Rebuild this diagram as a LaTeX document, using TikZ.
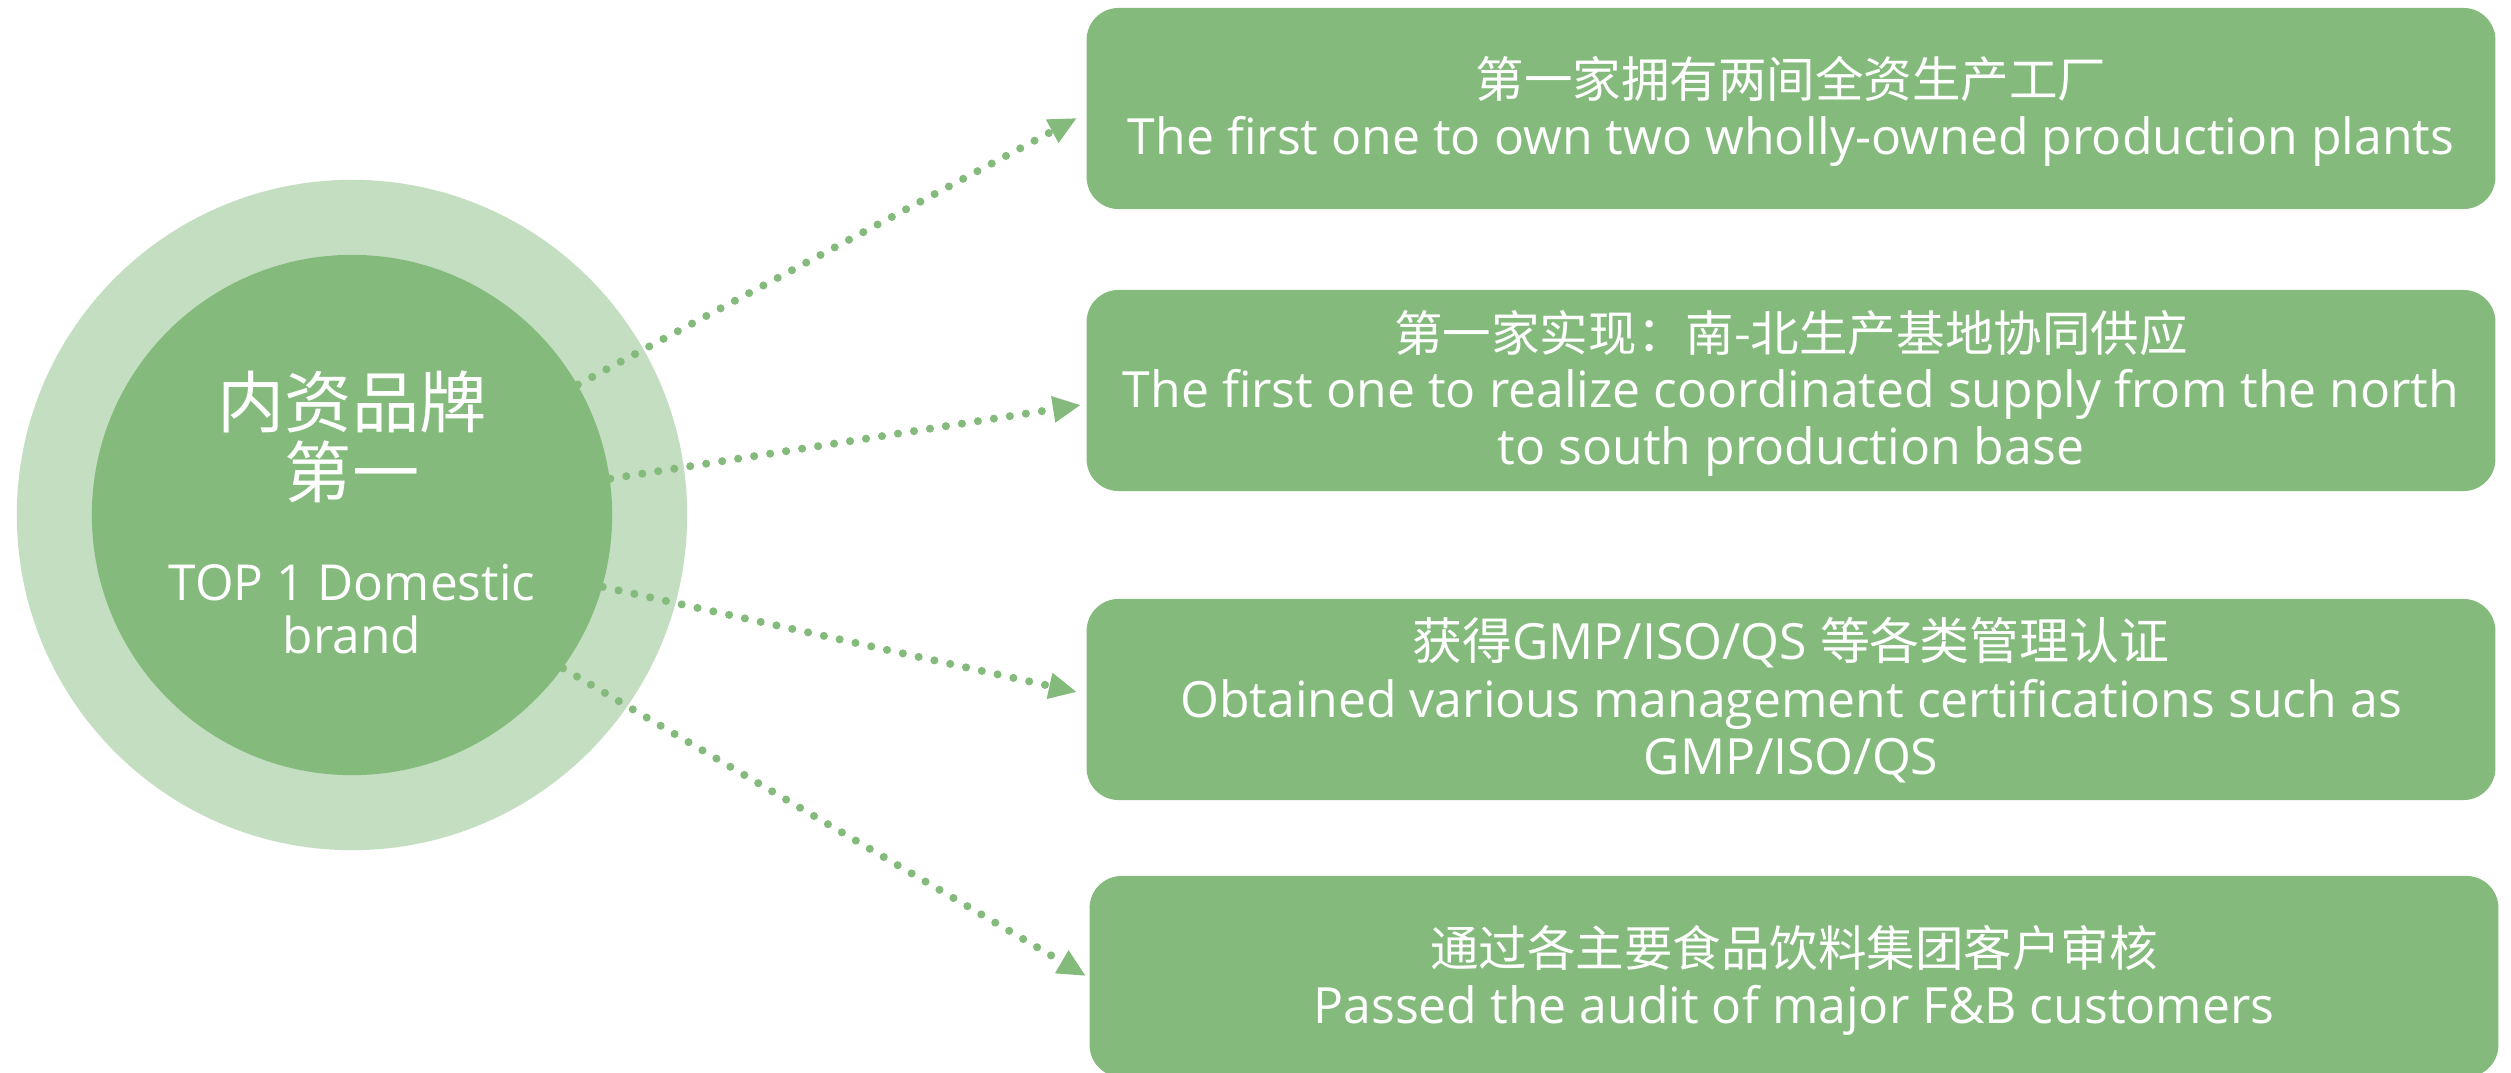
\documentclass[tikz,border=0pt]{standalone}
\usepackage{fontspec}
\setmainfont{Open Sans}
\newfontfamily\cjk{Noto Sans CJK SC}
\usetikzlibrary{arrows.meta}
\definecolor{gmain}{HTML}{84BA7C}
\definecolor{glight}{HTML}{C3DEC0}
\tikzset{
  box/.style={rectangle, rounded corners=0.32cm, fill=gmain, draw=none, inner sep=0pt,
              minimum width=14.08cm, minimum height=2.01cm},
  eng/.style={text=white, anchor=base, inner sep=0pt, font=\fontsize{14.2pt}{16pt}\selectfont},
  zh/.style={text=white, anchor=base, inner sep=0pt, font=\fontsize{13.8pt}{16pt}\selectfont\cjk},
  ctzh/.style={text=white, anchor=base, inner sep=0pt, font=\fontsize{19.1pt}{20pt}\selectfont\cjk},
  cten/.style={text=white, anchor=base, inner sep=0pt, font=\fontsize{14.1pt}{16pt}\selectfont},
  conn/.style={draw=gmain, line width=2.3pt, line cap=round, dash pattern=on 0pt off 4.6pt,
               -{Triangle[length=8pt,width=7pt]}}
}
\begin{document}
\begin{tikzpicture}[x=0.01cm,y=-0.01cm]
\useasboundingbox (0,0) rectangle (2511,1073);
% circles
\node[circle, fill=glight, draw=none, inner sep=0pt, minimum size=6.7cm] (outer) at (352,515) {};
\node[circle, fill=gmain, draw=none, inner sep=0pt, minimum size=5.2cm] (inner) at (352,515) {};
\node[ctzh] (c1) at (352,427) {内资品牌};
\node[ctzh] (c2) at (352,498) {第一};
\node[cten] (c3) at (352,600) {TOP 1 Domestic};
\node[cten] (c4) at (352,653) {brand};
% boxes
\node[box] (box1) at (1791,108.5) {};
\node[box] (box2) at (1791,390.5) {};
\node[box] (box3) at (1791,699.5) {};
\node[box] (box4) at (1794,976.5) {};
% box texts
\node[zh] (t1a) at (1791,98) {第一家拥有两间全资生产工厂};
\node[eng] (t1b) at (1791,155) {The first one to own two wholly-owned production plants};
\node[zh] (t2a) at (1791,352) {第一家实现：南-北生产基地协同供应};
\node[eng] (t2b) at (1791,408) {The first one to realize coordinated supply from the north};
\node[eng] (t2c) at (1791,465) {to south production base};
\node[eng] (t3a) at (1791,659) {{\cjk 获得}GMP/ISO/QS {\cjk 等各类管理认证}};
\node[eng] (t3b) at (1791,717) {Obtained various management certifications such as};
\node[eng] (t3c) at (1791,774) {GMP/ISO/QS};
\node[zh] (t4a) at (1794,966) {通过各主要食品饮料集团客户审核};
\node[eng] (t4b) at (1794,1023) {Passed the audit of major F\&B customers};
% connectors
\coordinate (tip1) at (1077,118);
\coordinate (tip2) at (1081,405);
\coordinate (tip3) at (1077,692);
\coordinate (tip4) at (1086,976);
\draw[conn] (inner.30.6) -- (tip1);
\draw[conn] (inner.8.9) -- (tip2);
\draw[conn] (inner.-16.9) -- (tip3);
\draw[conn] (inner.-36.5) -- (tip4);
\end{tikzpicture}
\end{document}
